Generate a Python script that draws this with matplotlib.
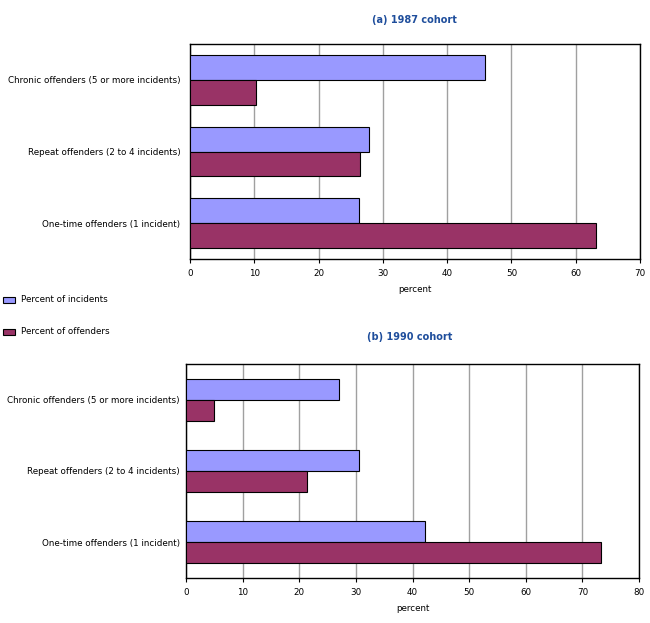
import numpy as np
import matplotlib.pyplot as plt
from matplotlib.patches import Rectangle

# Categories (bottom to top in each panel)
categories = ['One-time offenders (1 incident)',
              'Repeat offenders (2 to 4 incidents)',
              'Chronic offenders (5 or more incidents)']

# (a) 1987 cohort
incidents_1987 = [26.3, 27.9, 45.9]
offenders_1987 = [63.2, 26.4, 10.2]

# (b) 1990 cohort
incidents_1990 = [42.2, 30.5, 27.0]
offenders_1990 = [73.3, 21.4, 4.9]

blue = '#9999FF'
maroon = '#993366'
title_color = '#1F4E9C'
fs = 6.3

W, H = 650, 623
fig = plt.figure(figsize=(W / 100, H / 100), dpi=100)


def panel(rect, inc, off, xmax, bar_h, title, title_xy, ypad):
    l, t, r, b = rect
    ax = fig.add_axes([l / W, 1 - b / H, (r - l) / W, (b - t) / H])
    y = np.arange(len(categories))
    ax.barh(y + bar_h / 2, inc, height=bar_h, color=blue, edgecolor='black', linewidth=0.8, zorder=3)
    ax.barh(y - bar_h / 2, off, height=bar_h, color=maroon, edgecolor='black', linewidth=0.8, zorder=3)
    ax.set_xlim(0, xmax)
    ax.set_ylim(-0.5, 2.5)
    ax.set_xticks(np.arange(0, xmax + 1, 10))
    ax.set_yticks(y)
    ax.set_yticklabels(categories, fontsize=fs)
    ax.tick_params(axis='x', labelsize=fs, length=3, pad=4)
    ax.tick_params(axis='y', length=0, pad=ypad)
    ax.grid(axis='x', color='#A0A0A0', linewidth=1, zorder=0)
    for s in ax.spines.values():
        s.set_color('black')
        s.set_linewidth(1)
    ax.set_xlabel('percent', fontsize=fs, labelpad=5)
    fig.text(title_xy[0] / W, 1 - title_xy[1] / H, title, fontsize=7, fontweight='bold',
             color=title_color, ha='center', va='center')
    return ax


panel((190, 44, 640, 259), incidents_1987, offenders_1987, 70, 0.347,
      '(a) 1987 cohort', (414, 20), 7)
panel((186, 364, 639, 578), incidents_1990, offenders_1990, 80, 0.296,
      '(b) 1990 cohort', (410, 337), 4.5)

# Legend in the gap between panels
for label, color, yy in [('Percent of incidents', blue, 300), ('Percent of offenders', maroon, 332)]:
    fig.patches.append(Rectangle((3 / W, 1 - (yy + 3) / H), 12 / W, 6 / H, transform=fig.transFigure,
                                 facecolor=color, edgecolor='black', linewidth=0.8))
    fig.text(21 / W, 1 - yy / H, label, fontsize=fs, ha='left', va='center')

fig.savefig('out.png', dpi=100)
